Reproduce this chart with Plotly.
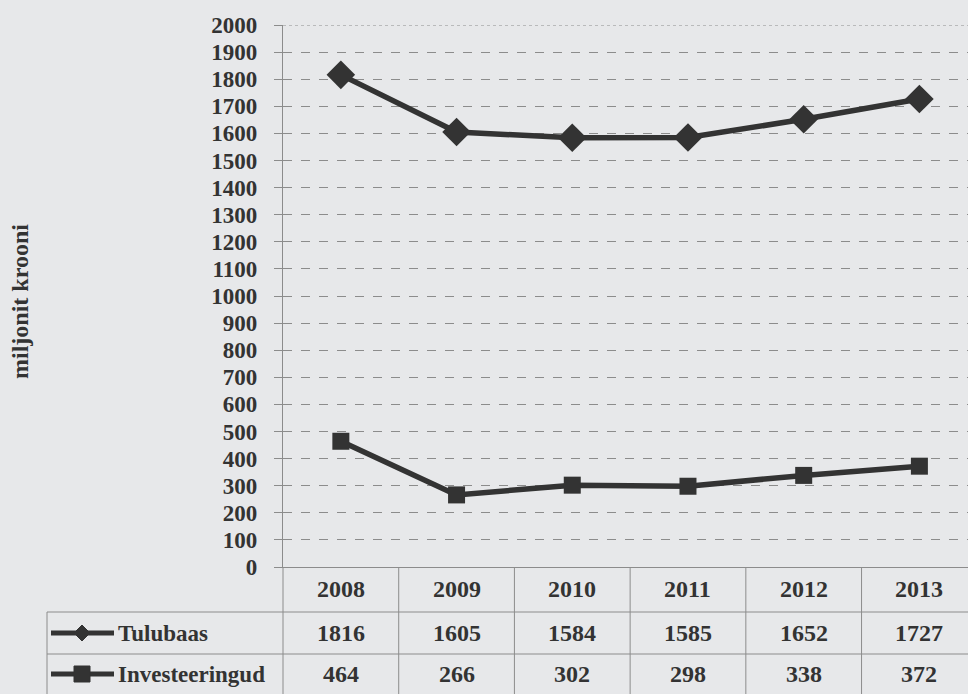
import plotly.graph_objects as go

years = ["2008", "2009", "2010", "2011", "2012", "2013"]
tulubaas = [1816, 1605, 1584, 1585, 1652, 1727]
investeeringud = [464, 266, 302, 298, 338, 372]
series_names = ["Tulubaas", "Investeeringud"]
y_title = "miljonit krooni"

W, H = 968, 694
BG = "#e7e8ea"
INK = "#333333"
GRID = "#8c8c8c"
FONT = "Liberation Serif"


def px(x):
    return x / W


def py(y):
    return 1 - y / H


fig = go.Figure()
fig.add_trace(go.Scatter(
    x=years, y=tulubaas, name=series_names[0], mode="lines+markers",
    line=dict(color=INK, width=5.5),
    marker=dict(symbol="diamond", size=22, color=INK),
    cliponaxis=False,
))
fig.add_trace(go.Scatter(
    x=years, y=investeeringud, name=series_names[1], mode="lines+markers",
    line=dict(color=INK, width=5.5),
    marker=dict(symbol="square", size=17, color=INK),
    cliponaxis=False,
))

plot_left, plot_top, plot_bottom = 283, 25, 567
row_lines = [612, 654, 694]
row_centers = [589, 633, 674]

shapes = []
annotations = []

# top border of plot
shapes.append(dict(type="line", xref="paper", yref="y", x0=px(plot_left), x1=1,
                   y0=2000, y1=2000, line=dict(color=GRID, width=1.2, dash="dot")))

# table horizontal lines
for yl in row_lines[:2]:
    shapes.append(dict(type="line", xref="paper", yref="paper", x0=px(47), x1=1,
                       y0=py(yl), y1=py(yl), line=dict(color=GRID, width=1)))
# left edge of table label column
shapes.append(dict(type="line", xref="paper", yref="paper", x0=px(47), x1=px(47),
                   y0=0, y1=py(row_lines[0]), line=dict(color=GRID, width=1)))
# vertical lines at category boundaries
for i in range(len(years)):
    shapes.append(dict(type="line", xref="x", yref="paper", x0=i + 0.5, x1=i + 0.5,
                       y0=0, y1=py(plot_bottom), line=dict(color=GRID, width=1)))
shapes.append(dict(type="line", xref="paper", yref="paper", x0=px(plot_left), x1=px(plot_left),
                   y0=0, y1=py(plot_bottom), line=dict(color=GRID, width=1)))

# table text (category index positions)
rows = [years, [str(v) for v in tulubaas], [str(v) for v in investeeringud]]
for r, vals in enumerate(rows):
    for i, txt in enumerate(vals):
        annotations.append(dict(x=i, y=py(row_centers[r]), xref="x", yref="paper", text=txt,
                                xanchor="center", yanchor="middle", showarrow=False,
                                font=dict(family=FONT, size=24, color=INK)))

# legend keys in table
for r, name in enumerate(series_names):
    yc = row_centers[r + 1]
    shapes.append(dict(type="line", xref="paper", yref="paper", x0=px(51), x1=px(114),
                       y0=py(yc), y1=py(yc), line=dict(color=INK, width=5)))
    cx = 82
    s = 8
    if r == 0:
        path = (f"M {px(cx - s)} {py(yc)} L {px(cx)} {py(yc - s)} "
                f"L {px(cx + s)} {py(yc)} L {px(cx)} {py(yc + s)} Z")
    else:
        path = (f"M {px(cx - s)} {py(yc - s)} L {px(cx + s)} {py(yc - s)} "
                f"L {px(cx + s)} {py(yc + s)} L {px(cx - s)} {py(yc + s)} Z")
    shapes.append(dict(type="path", xref="paper", yref="paper", path=path,
                       fillcolor=INK, line=dict(color=INK, width=1)))
    annotations.append(dict(x=px(116), y=py(yc), xref="paper", yref="paper", text=name,
                            xanchor="left", yanchor="middle", showarrow=False,
                            font=dict(family=FONT, size=23, color=INK)))

# y-axis title
annotations.append(dict(x=px(20), y=py(302), xref="paper", yref="paper", text=y_title,
                        textangle=-90, xanchor="center", yanchor="middle", showarrow=False,
                        font=dict(family=FONT, size=24, color=INK)))

fig.update_layout(
    width=W, height=H,
    margin=dict(l=0, r=0, t=0, b=0, autoexpand=False),
    paper_bgcolor=BG, plot_bgcolor=BG,
    showlegend=False,
    font=dict(family=FONT, color=INK),
    shapes=shapes, annotations=annotations,
    xaxis=dict(
        domain=[px(plot_left), 1], automargin=False,
        type="category", range=[-0.5, 5.42],
        showgrid=False, showticklabels=False, ticks="", zeroline=False,
        showline=True, linecolor=GRID, linewidth=1.2,
    ),
    yaxis=dict(
        domain=[py(plot_bottom), py(plot_top)], automargin=False,
        range=[0, 2000], dtick=100, tick0=0,
        showgrid=True, gridcolor=GRID, gridwidth=1, griddash="dash",
        zeroline=False, showline=True, linecolor=GRID, linewidth=1.2,
        ticks="outside", ticklen=8, tickcolor=GRID,
        tickfont=dict(family=FONT, size=23, color=INK, weight="bold"),
        ticklabelstandoff=12,
    ),
)
fig.update_annotations(font_weight="bold")
fig.write_html(
    "out.html",
    config={"displayModeBar": False},
    post_script="document.body.style.margin='0';document.body.style.padding='0';",
)
